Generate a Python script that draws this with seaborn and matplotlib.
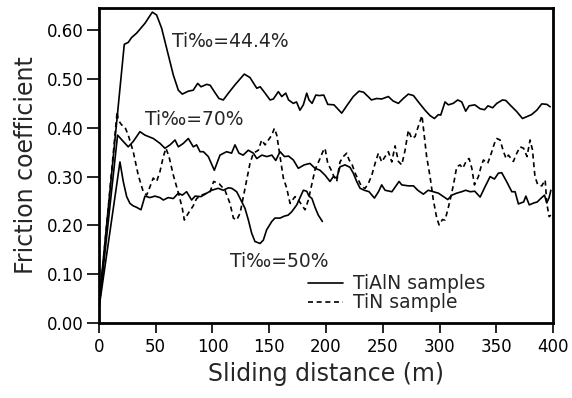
import numpy as np
import pandas as pd
import matplotlib
matplotlib.use("Agg")
import matplotlib.pyplot as plt
from matplotlib.lines import Line2D
import seaborn as sns

# ---------------- data ----------------
ti44_x = [0, 22.3, 25.8, 28.8, 33.2, 40.5, 47, 50.8, 55.2, 59.6,
          65.5, 69.9, 73.4, 78.7, 83, 87, 89.9, 94.9, 98, 101.6,
          105.7, 109.5, 114, 119.8, 128, 133, 139, 142, 146.3, 150.7,
          153.6, 158, 161, 164.5, 167, 171.2, 174, 177, 180, 183,
          185, 187.7, 191, 194, 198, 201.5, 207, 213.8, 219.7, 224,
          229, 233, 237, 240, 244.6, 249, 254.9, 259, 263.7, 268,
          272.5, 277, 281.3, 287.2, 291.6, 295.4, 299, 301, 304.8, 307.7,
          312, 316, 319.5, 323, 326, 331, 335.7, 339.6, 342.6, 346.7,
          350.4, 355.4, 358.3, 362, 368, 373, 377, 381, 385.6, 390,
          394.5, 397.4]
ti44_y = [0.04, 0.571, 0.575, 0.585, 0.594, 0.614, 0.637, 0.631, 0.604, 0.563,
          0.508, 0.477, 0.469, 0.475, 0.477, 0.491, 0.484, 0.489, 0.487, 0.474,
          0.460, 0.457, 0.471, 0.488, 0.510, 0.503, 0.481, 0.484, 0.471, 0.457,
          0.459, 0.474, 0.464, 0.471, 0.457, 0.450, 0.453, 0.436, 0.447, 0.471,
          0.457, 0.450, 0.467, 0.466, 0.467, 0.448, 0.447, 0.430, 0.450, 0.464,
          0.475, 0.473, 0.464, 0.457, 0.460, 0.459, 0.464, 0.455, 0.450, 0.460,
          0.469, 0.466, 0.453, 0.436, 0.425, 0.419, 0.427, 0.426, 0.453, 0.447,
          0.450, 0.457, 0.453, 0.434, 0.445, 0.447, 0.439, 0.437, 0.445, 0.441,
          0.450, 0.457, 0.456, 0.447, 0.433, 0.419, 0.423, 0.427, 0.436, 0.449,
          0.448, 0.443]

ti70_x = [0, 16.4, 21.4, 25.8, 30.2, 36.1, 40.5, 47.9, 53.8, 58.1,
          62.6, 67, 69.9, 74.3, 78.7, 83.1, 86, 89, 92, 96.3,
          101.6, 106.6, 112.4, 116.8, 119.8, 123.3, 127, 131.5, 136, 139,
          143.5, 147.9, 152.3, 155.7, 159.5, 163.4, 167, 171.2, 175.6, 180.8,
          185.8, 190.3, 194.7, 199.1, 203.5, 206.4, 209.4, 212.3, 216.7, 221.1,
          224, 227, 230, 233.8, 237.9, 242.6, 246.2, 249, 252, 258,
          264.3, 266.7, 272.5, 277, 280.8, 285.7, 290, 294.5, 299, 303.4,
          307.2, 310.8, 315, 319.5, 323, 327, 331, 335.7, 340, 344.5,
          348.3, 351.8, 354.7, 359, 363.6, 366.5, 369.4, 374, 376, 379,
          383, 386, 389, 392.4, 394.4, 396.5, 398]
ti70_y = [0.03, 0.385, 0.372, 0.361, 0.372, 0.392, 0.385, 0.378, 0.368, 0.358,
          0.365, 0.375, 0.361, 0.368, 0.378, 0.361, 0.365, 0.351, 0.351, 0.341,
          0.313, 0.344, 0.351, 0.348, 0.365, 0.348, 0.344, 0.354, 0.348, 0.337,
          0.344, 0.341, 0.344, 0.333, 0.351, 0.341, 0.342, 0.334, 0.317, 0.324,
          0.327, 0.317, 0.313, 0.303, 0.290, 0.300, 0.297, 0.320, 0.324, 0.319,
          0.307, 0.290, 0.276, 0.272, 0.269, 0.256, 0.269, 0.283, 0.272, 0.269,
          0.290, 0.283, 0.281, 0.281, 0.272, 0.264, 0.272, 0.269, 0.266, 0.259,
          0.253, 0.262, 0.266, 0.269, 0.272, 0.269, 0.270, 0.258, 0.279, 0.300,
          0.295, 0.307, 0.308, 0.290, 0.269, 0.269, 0.244, 0.248, 0.260, 0.242,
          0.246, 0.248, 0.255, 0.262, 0.246, 0.257, 0.272]

ti50_x = [0, 18.5, 21.4, 24.4, 27.3, 30.2, 33.2, 37, 40.5, 44.9,
          49.3, 53.7, 56.7, 61, 65.5, 69.9, 73.4, 77.2, 81.6, 84.6,
          89.9, 94.9, 99.3, 105, 109.5, 114, 117, 121.3, 125, 128.6,
          131.6, 134.5, 137.4, 141.9, 144.8, 147.7, 152.2, 155, 159.5, 163.3,
          166.6, 169.8, 174.2, 180, 183, 185, 187.6, 190.3, 193.2, 196.8]
ti50_y = [0.03, 0.33, 0.290, 0.259, 0.245, 0.240, 0.237, 0.232, 0.260, 0.257,
          0.260, 0.257, 0.252, 0.257, 0.255, 0.266, 0.262, 0.269, 0.252, 0.260,
          0.259, 0.266, 0.272, 0.276, 0.272, 0.277, 0.276, 0.269, 0.252, 0.235,
          0.211, 0.184, 0.167, 0.163, 0.170, 0.191, 0.208, 0.215, 0.215, 0.219,
          0.221, 0.228, 0.242, 0.272, 0.270, 0.260, 0.255, 0.237, 0.221, 0.208]

tin_x = [0, 16, 17, 19.9, 22.8, 25.8, 30.2, 34.6, 39, 42,
         44.9, 47.8, 50.8, 53.7, 56.7, 59, 61.7, 65.5, 70.5, 73.4,
         75.2, 78.7, 83, 86, 90.5, 97.9, 101, 106, 111, 115.4,
         118.4, 121.3, 124.3, 128.6, 133, 136, 140.4, 143.3, 146.3, 149.2,
         152.2, 154.5, 156.6, 159.5, 162.4, 165.4, 168.3, 172.7, 176.2, 181.5,
         184.4, 187.4, 190.3, 194.7, 197.7, 199.1, 201.5, 204.4, 206.4, 209.4,
         212.3, 215.2, 218.2, 220.3, 222.6, 225.6, 228.5, 231.4, 234.4, 237.3,
         240.3, 243.2, 246.1, 249, 252, 254.9, 257.9, 260.8, 263.7, 266.7,
         269.6, 272.5, 275.5, 278.4, 280.7, 284.5, 288.6, 291.6, 294.5, 297.5,
         299.6, 302.5, 304.8, 307.2, 309.3, 312.2, 315.1, 318, 320.4, 324,
         326, 328.4, 330.7, 334.2, 336.5, 338.6, 342.4, 346, 348.3, 350.4,
         353.3, 356.3, 358.6, 360.6, 365, 368, 371, 374, 377, 379.7,
         381.8, 384, 386.5, 390, 393, 394.4, 396.5, 398]
tin_y = [0.03, 0.433, 0.416, 0.406, 0.402, 0.385, 0.351, 0.303, 0.269, 0.262,
         0.279, 0.297, 0.290, 0.310, 0.341, 0.358, 0.341, 0.303, 0.262, 0.235,
         0.211, 0.225, 0.240, 0.255, 0.262, 0.269, 0.290, 0.285, 0.272, 0.245,
         0.215, 0.211, 0.225, 0.275, 0.327, 0.348, 0.354, 0.375, 0.365, 0.375,
         0.385, 0.399, 0.385, 0.341, 0.297, 0.276, 0.245, 0.259, 0.250, 0.232,
         0.252, 0.283, 0.314, 0.337, 0.354, 0.358, 0.327, 0.314, 0.303, 0.290,
         0.330, 0.341, 0.348, 0.334, 0.327, 0.307, 0.293, 0.279, 0.276, 0.286,
         0.303, 0.327, 0.348, 0.330, 0.341, 0.351, 0.330, 0.363, 0.331, 0.324,
         0.354, 0.395, 0.378, 0.382, 0.399, 0.425, 0.341, 0.300, 0.252, 0.215,
         0.201, 0.212, 0.211, 0.232, 0.252, 0.283, 0.320, 0.324, 0.317, 0.334,
         0.337, 0.317, 0.283, 0.300, 0.320, 0.334, 0.327, 0.351, 0.368, 0.378,
         0.375, 0.351, 0.337, 0.344, 0.331, 0.348, 0.361, 0.358, 0.341, 0.375,
         0.355, 0.300, 0.283, 0.281, 0.293, 0.245, 0.218, 0.221]

series_names = ["Ti44.4", "Ti70", "Ti50", "TiN"]
x_ticks = [0, 50, 100, 150, 200, 250, 300, 350, 400]
y_ticks = [0.0, 0.1, 0.2, 0.3, 0.4, 0.5, 0.6]
annotations = ["Ti‰=44.4%", "Ti‰=70%", "Ti‰=50%"]
legend_labels = ["TiAlN samples", "TiN sample"]

# ---------------- build table ----------------
frames = []
for name, xs, ys in zip(series_names,
                        [ti44_x, ti70_x, ti50_x, tin_x],
                        [ti44_y, ti70_y, ti50_y, tin_y]):
    frames.append(pd.DataFrame({"distance": xs, "friction": ys, "series": name}))
df = pd.concat(frames, ignore_index=True)

# ---------------- plot ----------------
sns.set_style("ticks")
plt.rcParams["font.family"] = ["DejaVu Sans"]

fig = plt.figure(figsize=(5.72, 3.98), dpi=100)
ax = fig.add_axes([0.173, 0.1884, 0.794, 0.7916])

sns.lineplot(data=df, x="distance", y="friction", hue="series", style="series",
             palette={n: "black" for n in series_names},
             dashes={"Ti44.4": "", "Ti70": "", "Ti50": "", "TiN": (3, 2.2)},
             sort=False, estimator=None, legend=False, lw=1.2, ax=ax)

ax.set_xlim(0, 400)
ax.set_ylim(0, 0.6455)
ax.set_xticks(x_ticks)
ax.set_xticklabels([str(v) for v in x_ticks])
ax.set_yticks(y_ticks)
ax.set_yticklabels([f"{v:.2f}" for v in y_ticks])

for sp in ax.spines.values():
    sp.set_linewidth(2.0)
    sp.set_color("black")
    sp.set_visible(True)

ax.tick_params(axis="x", direction="out", length=7, width=1.2, pad=4,
               labelsize=12, colors="black")
ax.tick_params(axis="y", direction="out", length=9, width=1.2, pad=2,
               labelsize=12, colors="black")

ax.set_xlabel("Sliding distance (m)", fontsize=17, labelpad=4)
ax.set_ylabel("Friction coefficient", fontsize=17, labelpad=6)

ax.text(64, 0.576, annotations[0], fontsize=13.5, va="center", ha="left")
ax.text(40.5, 0.416, annotations[1], fontsize=13.5, va="center", ha="left")
ax.text(115.4, 0.126, annotations[2], fontsize=13.5, va="center", ha="left")

handles = [Line2D([], [], color="black", lw=1.2),
           Line2D([], [], color="black", lw=1.2, ls=(0, (3, 2.2)))]
ax.legend(handles, legend_labels, loc="upper left",
          bbox_to_anchor=(0.46, 0.155), frameon=False, fontsize=13.5,
          handlelength=1.9, handletextpad=0.5, labelspacing=0.0,
          borderpad=0, borderaxespad=0)

fig.savefig("out.png", dpi=100)
